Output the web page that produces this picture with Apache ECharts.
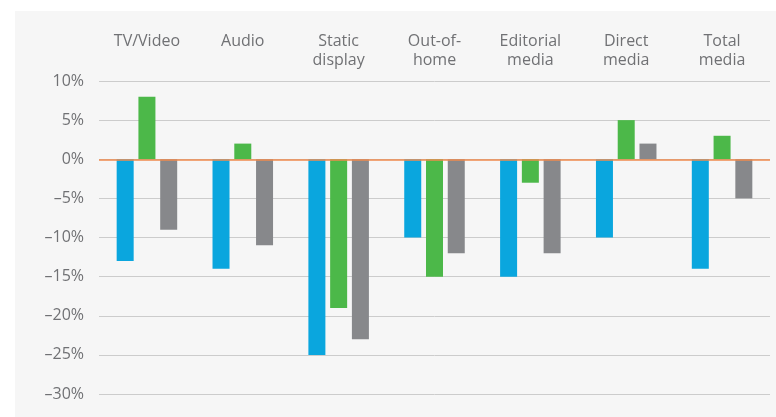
<!DOCTYPE html>
<html>
<head>
<meta charset="utf-8">
<script src="https://cdn.jsdelivr.net/npm/echarts@6/dist/echarts.min.js"></script>
<style>
  html, body { margin: 0; padding: 0; background: #ffffff; }
  #chart { width: 776px; height: 417px; }
</style>
</head>
<body>
<div id="chart"></div>
<script>
// Media categories (shown along the top)
const categories = ['TV/Video', 'Audio', 'Static\ndisplay', 'Out-of-\nhome', 'Editorial\nmedia', 'Direct\nmedia', 'Total\nmedia'];

// Percentage change per category, three series
const blueValues  = [-13, -14, -25, -10, -15, -10, -14];
const greenValues = [8, 2, -19, -15, -3, 5, 3];
const greyValues  = [-9, -11, -23, -12, -12, 2, -5];

// Value axis range and step (percent)
const yMin = -30;
const yMax = 10;
const yStep = 5;

const fontFamily = '"Open Sans", "Noto Sans", sans-serif';
const textColor = '#707174';

const chart = echarts.init(document.getElementById('chart'), null, { renderer: 'canvas' });

function barSeries(name, data, color) {
  return {
    name: name,
    type: 'bar',
    data: data,
    barWidth: 17,
    barGap: '28%',
    itemStyle: { color: color }
  };
}

const series = [
  barSeries('blue', blueValues, '#0aa6de'),
  barSeries('green', greenValues, '#4cb849'),
  barSeries('grey', greyValues, '#87888b')
];

// Orange baseline at zero
series[0].markLine = {
  silent: true,
  symbol: 'none',
  label: { show: false },
  lineStyle: { color: '#ef8a4c', width: 1.5, type: 'solid' },
  data: [{ yAxis: 0 }],
  z: 10
};

chart.setOption({
  animation: false,
  backgroundColor: '#ffffff',
  graphic: [{
    type: 'rect',
    left: 15,
    top: 11,
    shape: { width: 761, height: 406 },
    style: { fill: '#f6f6f6' },
    z: -10
  }],
  grid: { left: 99, right: 6, top: 81, bottom: 23, containLabel: false },
  xAxis: {
    type: 'category',
    position: 'top',
    data: categories,
    axisLine: { show: false },
    axisTick: { show: false },
    axisLabel: {
      interval: 0,
      color: textColor,
      fontFamily: fontFamily,
      fontSize: 16,
      lineHeight: 19,
      verticalAlign: 'top',
      margin: 49
    }
  },
  yAxis: {
    type: 'value',
    min: yMin,
    max: yMax,
    interval: yStep,
    axisLine: { show: false },
    axisTick: { show: false },
    axisLabel: {
      // typographic dash for negative values
      formatter: function (v) { return String(v).replace('-', '\u2013') + '%'; },
      color: textColor,
      fontFamily: fontFamily,
      fontSize: 16,
      margin: 15
    },
    splitLine: { lineStyle: { color: '#cccccc', width: 1 } }
  },
  series: series
});
</script>
</body>
</html>
